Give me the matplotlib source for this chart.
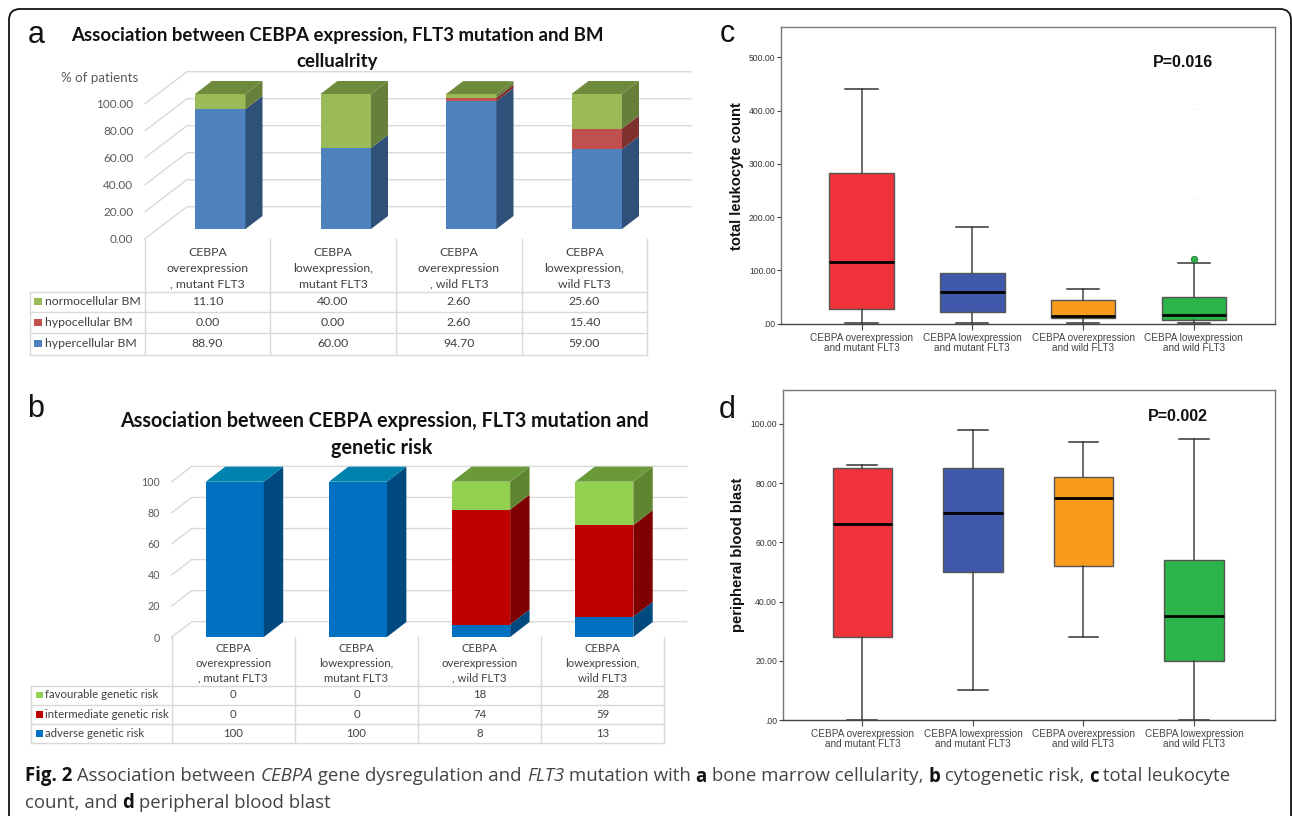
"""
Fig. 2 : CEBPA / FLT3, barres empilees pseudo-3D (a, b) et boxplots (c, d).
"""

import matplotlib
matplotlib.use('Agg')
import matplotlib.pyplot as plt
from matplotlib.patches import FancyBboxPatch, Rectangle

W, H = 1292, 816

# ── Panel a ───────────────────────────────────────────────────────
A_TITLE = ["Association between CEBPA expression, FLT3 mutation and BM", "cellualrity"]
A_GROUPS = ["CEBPA\noverexpression\n, mutant FLT3", "CEBPA\nlowexpression,\nmutant FLT3",
            "CEBPA\noverexpression\n, wild FLT3", "CEBPA\nlowexpression,\nwild FLT3"]
A_NAMES = ["normocellular BM", "hypocellular BM", "hypercellular BM"]
A_NORMO = [11.10, 40.00, 2.60, 25.60]
A_HYPO = [0.00, 0.00, 2.60, 15.40]
A_HYPER = [88.90, 60.00, 94.70, 59.00]
A_TICKS = [0, 20, 40, 60, 80, 100]

# ── Panel b ───────────────────────────────────────────────────────
B_TITLE = ["Association between CEBPA expression, FLT3 mutation and", "genetic risk"]
B_GROUPS = A_GROUPS
B_NAMES = ["favourable genetic risk", "intermediate genetic risk", "adverse genetic risk"]
B_FAV = [0, 0, 18, 28]
B_INTER = [0, 0, 74, 59]
B_ADV = [100, 100, 8, 13]
B_TICKS = [0, 20, 40, 60, 80, 100]

# ── Panels c, d ───────────────────────────────────────────────────
BOX_LABELS = ["CEBPA overexpression\nand mutant FLT3", "CEBPA lowexpression\nand mutant FLT3",
              "CEBPA overexpression\nand wild FLT3", "CEBPA lowexpression\nand wild FLT3"]
BOX_COLORS = ["#F0323A", "#3F58AA", "#F99B1C", "#2CB34A"]

C_WLO = [1, 2, 2, 2]
C_Q1 = [27, 22, 11, 7]
C_MED = [115, 59, 15, 17]
C_Q3 = [282, 95, 45, 51]
C_WHI = [441, 182, 66, 114]
C_FLIERS = [[], [], [], [122]]
C_FAINT = [403, 235]
C_TICKS = [0, 100, 200, 300, 400, 500]

D_WLO = [0, 10, 28, 0]
D_Q1 = [28, 50, 52, 20]
D_MED = [66, 70, 75, 35]
D_Q3 = [85, 85, 82, 54]
D_WHI = [86, 98, 94, 95]
D_TICKS = [0, 20, 40, 60, 80, 100]

GRID = "#D9D9D9"
TXT = "#404040"
LATO = "Lato"
ARIAL = "Liberation Sans"
CAP_FONT = "Open Sans"
CAP_SIZE = 13.4

plt.rcParams['font.family'] = [LATO, 'DejaVu Sans']

fig = plt.figure(figsize=(W / 100, H / 100), dpi=100)
bg = fig.add_axes([0, 0, 1, 1], zorder=0)
bg.set_xlim(0, W)
bg.set_ylim(H, 0)
bg.axis('off')


def px_axes(x0, y_top, x1, y_bot, zorder=2):
    ax = fig.add_axes([x0 / W, 1 - y_bot / H, (x1 - x0) / W, (y_bot - y_top) / H], zorder=zorder)
    ax.patch.set_alpha(0)
    return ax


def bar_panel(x0, x1, y0, unit_px, series, fronts, sides, tops, ticks, tick_fmt, tick_size,
              tick_pad, bar_w_px, bar_off_px, lift_px, depth, wall, wall_right):
    """Barres empilees avec faces laterales; depth et wall = decalages (dx, dy) en pixels."""
    col_px = (x1 - x0) / 4
    ax = px_axes(x0, y0 - 100 * unit_px, x1, y0)
    ax.set_xlim(-0.5, 3.5)
    ax.set_ylim(0, 100)
    for s in ax.spines.values():
        s.set_visible(False)
    ax.set_xticks([])
    ax.set_yticks(ticks)
    ax.set_yticklabels([tick_fmt % t for t in ticks], fontsize=tick_size, color="#595959")
    ax.tick_params(axis='y', length=0, pad=tick_pad)

    wx, wy = wall[0] / col_px, wall[1] / unit_px
    xl = -0.5
    xr = xl + (wall_right - x0) / col_px
    for t in ticks:
        ax.plot([xl, xl + wx, xr], [t, t + wy, t + wy], color=GRID, lw=1.0, clip_on=False, zorder=1)

    dx, dy = depth[0] / col_px, depth[1] / unit_px
    bw = bar_w_px / col_px
    off = bar_off_px / col_px
    lift = lift_px / unit_px
    for i in range(4):
        bottom = lift
        left = i + off - bw / 2
        right = left + bw
        top_color = None
        for vals, fc, sc, tc in zip(series, fronts, sides, tops):
            v = vals[i]
            if v <= 0:
                continue
            ax.bar(i + off, v, bw, bottom=bottom, color=fc, lw=0, zorder=3, clip_on=False)
            ax.fill([right, right + dx, right + dx, right],
                    [bottom, bottom + dy, bottom + v + dy, bottom + v],
                    color=sc, lw=0, zorder=3, clip_on=False)
            bottom += v
            top_color = tc
        ax.fill([left, right, right + dx, left + dx],
                [bottom, bottom, bottom + dy, bottom + dy],
                color=top_color, lw=0, zorder=3, clip_on=False)
    return ax


def data_table(xs, rows_y, top_y, left_x, groups, group_ys, names, name_x, sw_x, sw_w,
               rows, row_centers, colors, size):
    for x in xs:
        bg.plot([x, x], [top_y, rows_y[-1]], color=GRID, lw=1.0)
    bg.plot([left_x, left_x], [rows_y[0], rows_y[-1]], color=GRID, lw=1.0)
    for y in rows_y:
        bg.plot([left_x, xs[-1]], [y, y], color=GRID, lw=1.0)
    for i in range(4):
        cx = (xs[i] + xs[i + 1]) / 2
        for line, y in zip(groups[i].split("\n"), group_ys):
            bg.text(cx, y, line, ha='center', va='center', fontsize=size, color=TXT)
        for vals, y in zip(rows, row_centers):
            bg.text(cx, y, vals[i], ha='center', va='center', fontsize=size, color=TXT)
    for name, y, c in zip(names, row_centers, colors):
        bg.add_patch(Rectangle((sw_x, y - sw_w / 2), sw_w, sw_w, color=c, lw=0))
        bg.text(name_x, y, name, ha='left', va='center', fontsize=size, color=TXT)


def box_panel(x0, y_top, x1, y_bot, ymax, wlo, q1, med, q3, whi, fliers, ticks, box_w, xlim):
    ax = px_axes(x0, y_top, x1, y_bot)
    stats = []
    for i in range(4):
        stats.append(dict(whislo=wlo[i], q1=q1[i], med=med[i], q3=q3[i], whishi=whi[i],
                          fliers=fliers[i]))
    bp = ax.bxp(stats, positions=range(4), widths=box_w, patch_artist=True, manage_ticks=False,
                medianprops=dict(color="black", lw=2.0, solid_capstyle='butt'),
                whiskerprops=dict(color="#444444", lw=1.1),
                capprops=dict(color="#333333", lw=1.1),
                boxprops=dict(edgecolor="#555555", lw=1.0),
                flierprops=dict(marker='o', ms=4.6, mfc="#2CB34A", mec="#1E7A33", mew=0.6))
    for patch, c in zip(bp['boxes'], BOX_COLORS):
        patch.set_facecolor(c)
    ax.set_xlim(*xlim)
    ax.set_ylim(0, ymax)
    ax.set_xticks(range(4))
    ax.set_xticklabels([])
    ax.set_yticks(ticks)
    ax.set_yticklabels([("%.2f" % t) if t else ".00" for t in ticks], fontsize=6.2,
                       family=ARIAL, color="#333333")
    ax.tick_params(axis='y', length=3.2, width=0.8, color="#444444", pad=0.8)
    ax.tick_params(axis='x', length=4, width=0.8, color="#444444")
    for s in ax.spines.values():
        s.set_color("#777777")
        s.set_linewidth(1.0)
    ax.spines['bottom'].set_color("#444444")
    return ax


# ── Cadre ─────────────────────────────────────────────────────────
bg.add_patch(FancyBboxPatch((9, 9), 1282, 860, boxstyle="round,pad=0,rounding_size=11",
                            fc="white", ec="#111111", lw=1.3))

# ── a ────────────────────────────────────────────────────────────
for line, y, x, ha in zip(A_TITLE, [36, 61], [70.7, 337], ['left', 'center']):
    bg.text(x, y, line, ha=ha, va='center', fontsize=13.45, fontweight='bold', color="#111111")
bg.text(138.5, 78, "% of patients", ha='right', va='center', fontsize=9.6, color="#595959")

bar_panel(145, 647, 238.7, 1.35,
          [A_HYPER, A_HYPO, A_NORMO],
          ["#4F81BD", "#C0504D", "#9BBB59"],
          ["#2F5179", "#7F312F", "#66803A"],
          ["#2F5179", "#7F312F", "#6E8A3D"],
          A_TICKS, "%.2f", 8.5, 8.5, 50.5, 12.5, 9.7, (17, 13), (42, 32), 691)

data_table([145, 270, 396, 521.5, 647], [292, 312, 333, 355], 238.7, 29.5,
           A_GROUPS, [252, 268.3, 284], A_NAMES, 44.6, 34, 7.5,
           [["%.2f" % v for v in A_NORMO], ["%.2f" % v for v in A_HYPO], ["%.2f" % v for v in A_HYPER]],
           [301.7, 322.7, 343.7], ["#9BBB59", "#C0504D", "#4F81BD"], 8.8)

# ── b ────────────────────────────────────────────────────────────
for line, y, x, ha in zip(B_TITLE, [420.7, 447.7], [120, 382], ['left', 'center']):
    bg.text(x, y, line, ha=ha, va='center', fontsize=14.2, fontweight='bold', color="#111111")

bar_panel(171.7, 664.4, 637, 1.553,
          [B_ADV, B_INTER, B_FAV],
          ["#0070C0", "#C00000", "#92D050"],
          ["#004A80", "#7F0000", "#608530"],
          ["#0082AE", "#7F0000", "#6A9A3A"],
          B_TICKS, "%d", 7.7, 8.5, 58, 1.5, 0, (19.4, 15), (20, 15.3), 686.6)

data_table([171.7, 294.6, 418.4, 541, 664.4], [685.7, 705, 724.3, 743.3], 637, 30.7,
           B_GROUPS, [648.7, 663.7, 678.3], B_NAMES, 45, 36.2, 6.5,
           [[str(v) for v in B_FAV], [str(v) for v in B_INTER], [str(v) for v in B_ADV]],
           [695, 714.3, 733.7], ["#92D050", "#C00000", "#0070C0"], 8.2)

# ── c ────────────────────────────────────────────────────────────
ax_c = box_panel(781.3, 27.3, 1274.7, 323.7, 556.4, C_WLO, C_Q1, C_MED, C_Q3, C_WHI, C_FLIERS,
                 C_TICKS, 0.582, (-0.724, 3.73))
ax_c.plot([3, 3], C_FAINT, ls='none', marker='o', ms=1.2, color="#E4E4E4", mew=0)
for i, lab in enumerate(BOX_LABELS):
    ax_c.annotate(lab, (i, 0), xytext=(0, -7), xycoords=('data', 'data'), textcoords='offset points',
                  ha='center', va='top', fontsize=7.2, family=ARIAL, color="#444444", linespacing=1.0)
bg.text(1183.5, 62.7, "P=0.016", ha='center', va='center', fontsize=11.5, fontweight='bold',
        family=ARIAL, color="#111111")
bg.text(737, 176, "total leukocyte count", rotation=90, ha='center', va='center', fontsize=10.7,
        fontweight='bold', family=ARIAL, color="#111111")

# ── d ────────────────────────────────────────────────────────────
ax_d = box_panel(782.5, 390, 1274.7, 720, 111.4, D_WLO, D_Q1, D_MED, D_Q3, D_WHI, [[], [], [], []],
                 D_TICKS, 0.54, (-0.723, 3.73))
for i, lab in enumerate(BOX_LABELS):
    ax_d.annotate(lab, (i, 0), xytext=(0, -6.6), xycoords=('data', 'data'), textcoords='offset points',
                  ha='center', va='top', fontsize=7.2, family=ARIAL, color="#444444", linespacing=1.0)
bg.text(1178.3, 416.7, "P=0.002", ha='center', va='center', fontsize=11.5, fontweight='bold',
        family=ARIAL, color="#111111")
bg.text(738, 554.5, "peripheral blood blast", rotation=90, ha='center', va='center', fontsize=10.7,
        fontweight='bold', family=ARIAL, color="#111111")

# ── Lettres ───────────────────────────────────────────────────────
for letter, x, y in [("a", 36, 35), ("b", 36, 409), ("c", 727, 34), ("d", 727, 410)]:
    bg.text(x, y, letter, ha='center', va='center', fontsize=22, family=ARIAL, color="#111111")

# ── Legende ───────────────────────────────────────────────────────
CAPTION = [
    [("Fig. 2", 'b'), (" Association between ", 'r'), ("CEBPA", 'i'), (" gene dysregulation and ", 'r'),
     ("FLT3", 'i'), (" mutation with ", 'r'), ("a", 'b'), (" bone marrow cellularity, ", 'r'),
     ("b", 'b'), (" cytogenetic risk, ", 'r'), ("c", 'b'), (" total leukocyte", 'r')],
    [("count, and ", 'r'), ("d", 'b'), (" peripheral blood blast", 'r')],
]
CAP_STYLE = {'r': dict(), 'b': dict(fontweight='bold'), 'i': dict(fontstyle='italic')}
renderer = fig.canvas.get_renderer()


def text_width(s, **kw):
    # les espaces de fin ne comptent pas dans l'extent, d'ou les x autour
    a = bg.text(0, 0, "x" + s + "x", fontsize=CAP_SIZE, family=CAP_FONT, **kw)
    b = bg.text(0, 0, "xx", fontsize=CAP_SIZE, family=CAP_FONT, **kw)
    w = a.get_window_extent(renderer).width - b.get_window_extent(renderer).width
    a.remove()
    b.remove()
    return w


for runs, y in zip(CAPTION, [774, 801]):
    x = 25
    for s, st in runs:
        kw = CAP_STYLE[st]
        col = "#111111" if st == 'b' else "#444444"
        bg.text(x, y, s, ha='left', va='center_baseline', fontsize=CAP_SIZE,
                family=CAP_FONT, color=col, **kw)
        x += text_width(s, **kw)

fig.savefig("out.png", dpi=100)
